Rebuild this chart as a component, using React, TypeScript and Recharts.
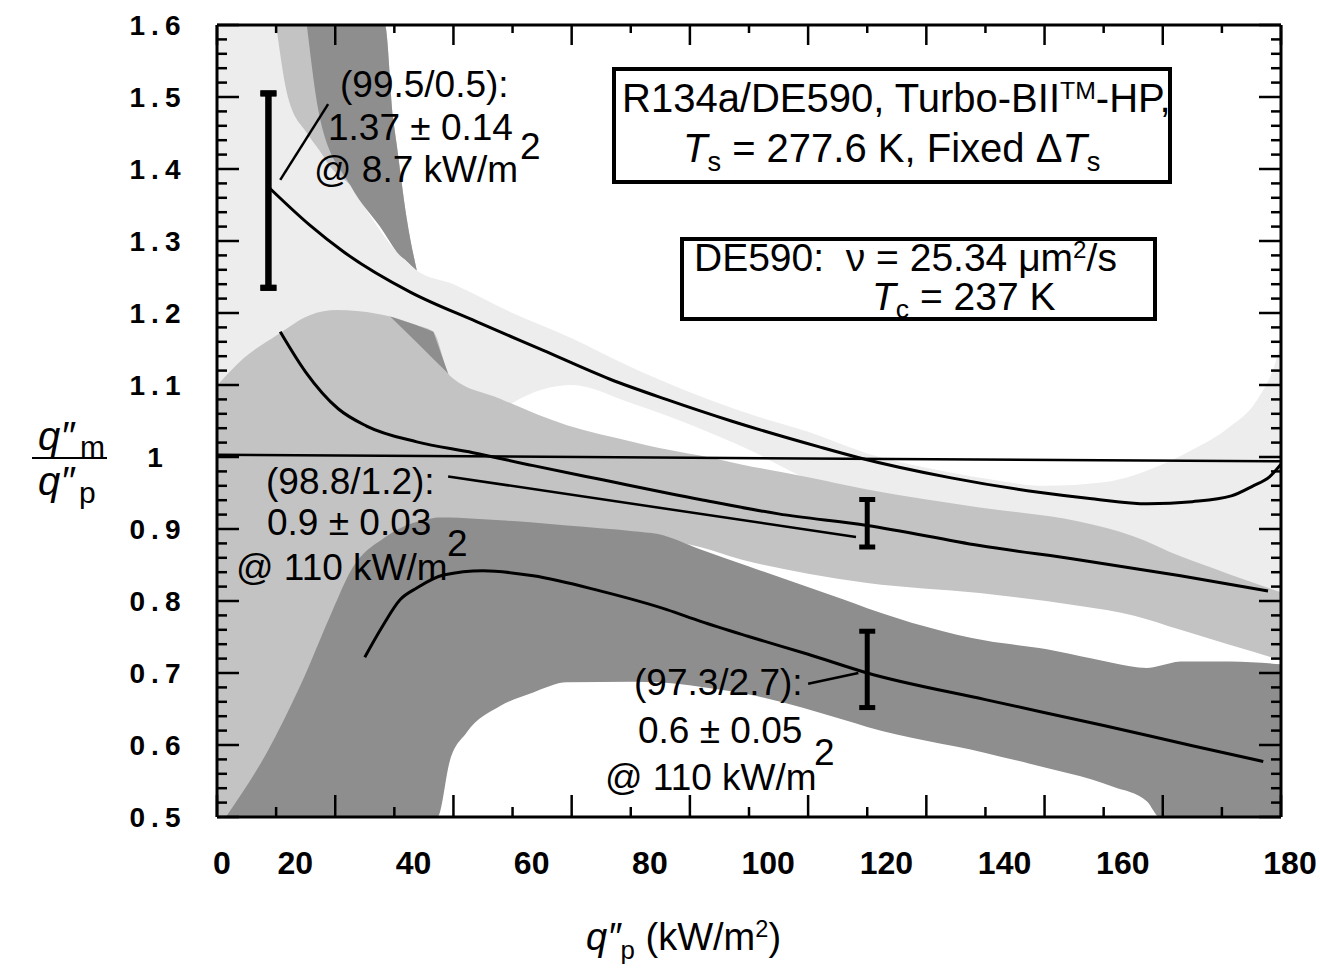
import React from 'react';
import { ComposedChart, Area, Line, ErrorBar, XAxis, YAxis } from 'recharts';

const FONT = '"Liberation Sans", Arial, Helvetica, sans-serif';
const NARROW = '"Liberation Sans Narrow", "Liberation Sans", Arial, sans-serif';

// ---- shaded uncertainty bands (x = q''p in kW/m2, lo/hi = q''m/q''p) ----
const lightX = [0, 10, 13, 17.4, 22.5, 30.4, 33.8, 40, 50, 60, 70, 80, 90, 100, 110, 120, 130, 140, 150, 160, 165, 171, 176, 179, 180];
const lightHi = [1.6, 1.6, 1.5, 1.44, 1.378, 1.285, 1.259, 1.24, 1.2, 1.165, 1.125, 1.09, 1.06, 1.035, 1.005, 0.985, 0.97, 0.96, 0.965, 0.99, 1.01, 1.04, 1.08, 1.13, 1.16];
const lightLo = [0.5, 0.5, 0.5, 0.5, 0.5, 0.5, 0.5, 0.9, 1.075, 1.1, 1.075, 1.045, 1.01, 0.97, 0.95, 0.84, 0.83, 0.82, 0.81, 0.8, 0.79, 0.78, 0.77, 0.76, 0.76];

const medX = [0, 4.5, 10.1, 15.7, 20.3, 27, 29.3, 33.8, 36.6, 39.4, 47.9, 59.2, 70.4, 74.6, 81.7, 88.5, 100, 110, 129, 146, 155, 163, 171, 180];
const medHi = [1.099, 1.137, 1.169, 1.197, 1.204, 1.199, 1.195, 1.183, 1.174, 1.113, 1.081, 1.044, 1.021, 1.013, 1.002, 0.99, 0.972, 0.955, 0.93, 0.91, 0.89, 0.862, 0.838, 0.812];
const medLo = [0.5, 0.5, 0.5, 0.5, 0.5, 0.5, 0.5, 0.5, 0.5, 0.906, 0.902, 0.895, 0.887, 0.885, 0.875, 0.858, 0.838, 0.825, 0.811, 0.793, 0.78, 0.76, 0.74, 0.718];

const medWedgeX = [10, 12, 15.2, 17.4, 19, 22.5, 28.4, 29.8, 30.4, 32.1, 33.8];
const medWedgeHi = [1.6, 1.6, 1.6, 1.6, 1.6, 1.6, 1.6, 1.471, 1.434, 1.331, 1.259];
const medWedgeLo = [1.6, 1.5, 1.45, 1.425, 1.405, 1.378, 1.31, 1.292, 1.285, 1.272, 1.259];

const darkX = [1.5, 8.4, 14, 19.6, 22.5, 28.7, 36.5, 37.3, 39.4, 42.2, 47.9, 53.5, 59.2, 70.4, 74.6, 81.7, 90, 106, 110, 130, 140.4, 148, 151.6, 157.3, 159.5, 163, 171.4, 180];
const darkHi = [0.5, 0.589, 0.681, 0.788, 0.84, 0.89, 0.915, 0.916, 0.916, 0.915, 0.912, 0.909, 0.905, 0.897, 0.893, 0.872, 0.848, 0.802, 0.79, 0.745, 0.733, 0.72, 0.714, 0.707, 0.71, 0.716, 0.716, 0.712];
const darkLo = [0.5, 0.5, 0.5, 0.5, 0.5, 0.5, 0.5, 0.5, 0.578, 0.617, 0.654, 0.673, 0.687, 0.688, 0.687, 0.681, 0.67, 0.635, 0.625, 0.589, 0.568, 0.552, 0.542, 0.522, 0.5, 0.5, 0.5, 0.5];

const darkWedgeX = [15.2, 17.4, 22.5, 28.4, 29.8, 30.4, 32.1, 33.8];
const darkWedgeHi = [1.6, 1.6, 1.6, 1.6, 1.471, 1.434, 1.331, 1.259];
const darkWedgeLo = [1.6, 1.471, 1.378, 1.31, 1.292, 1.285, 1.272, 1.259];

const patchX = [29.3, 33.8, 36.6, 39.1];
const patchHi = [1.195, 1.183, 1.174, 1.116];
const patchLo = [1.195, 1.159, 1.136, 1.116];

// ---- curves ----
const topX = [8.7, 15.7, 21.4, 32.7, 43.9, 55.2, 66.5, 76, 87, 101.9, 108.6, 124.2, 139, 148, 157.5, 165, 171.6, 175.3, 178, 180];
const topY = [1.375, 1.322, 1.285, 1.229, 1.188, 1.148, 1.108, 1.08, 1.05, 1.014, 0.999, 0.971, 0.951, 0.942, 0.935, 0.938, 0.946, 0.96, 0.972, 0.99];

const midX = [10.7, 15, 20.5, 25.3, 33.8, 43.3, 53.5, 64.8, 81.7, 95, 110, 129, 146, 163, 177.8];
const midY = [1.174, 1.118, 1.067, 1.043, 1.021, 1.006, 0.988, 0.969, 0.941, 0.921, 0.905, 0.877, 0.857, 0.835, 0.814];

const botX = [25, 28, 31, 33.8, 38.3, 45, 53.5, 64.8, 76.1, 81.7, 89.8, 100, 110, 130, 150, 165, 177];
const botY = [0.722, 0.765, 0.802, 0.818, 0.836, 0.842, 0.835, 0.814, 0.788, 0.772, 0.751, 0.726, 0.7, 0.663, 0.627, 0.599, 0.577];

const unityX = [0, 180];
const unityY = [1.003, 0.994];

// leader lines from the labels
const lead1X = [10.7, 18.8];
const lead1Y = [1.385, 1.49];
const lead2X = [39.1, 108.1];
const lead2Y = [0.973, 0.889];
const lead3X = [100, 108.5];
const lead3Y = [0.685, 0.7];

// error bars (first one is at 8.7 kW/m2, the other two at 110 kW/m2)
const ebX = [8.7, 110, 110];
const ebY = [1.37, 0.908, 0.705];
const ebErr = [0.135, 0.033, 0.053];

// axis ticks
const xMajor = [0, 20, 40, 60, 80, 100, 120, 140, 160, 180];
const xTicks = Array.from({ length: 19 }, (_, i) => i * 10);
const yMajor = [0.5, 0.6, 0.7, 0.8, 0.9, 1, 1.1, 1.2, 1.3, 1.4, 1.5, 1.6];
const yMajorText = ['0.5', '0.6', '0.7', '0.8', '0.9', '1', '1.1', '1.2', '1.3', '1.4', '1.5', '1.6'];
const yTicks = Array.from({ length: 56 }, (_, i) => +(0.5 + i * 0.02).toFixed(2));

const band = (xs: number[], lo: number[], hi: number[]) => xs.map((x, i) => ({ x, band: [lo[i], hi[i]] }));
const pts = (xs: number[], ys: number[]) => xs.map((x, i) => ({ x, y: ys[i] }));

const lightData = band(lightX, lightLo, lightHi);
const medData = band(medX, medLo, medHi);
const medWedgeData = band(medWedgeX, medWedgeLo, medWedgeHi);
const darkData = band(darkX, darkLo, darkHi);
const darkWedgeData = band(darkWedgeX, darkWedgeLo, darkWedgeHi);
const patchData = band(patchX, patchLo, patchHi);
const ebData = ebX.map((x, i) => ({ x, y: ebY[i], e: ebErr[i] }));
// a lone point makes recharts draw a marker, so the first bar gets its point twice
const eb1Data = [ebData[0], ebData[0]];
const eb23Data = ebData.slice(1);

const LIGHT = '#ededed';
const MEDIUM = '#c3c3c3';
const DARK = '#8e8e8e';

const isMajorY = (v: number) => Math.round(v * 100) % 10 === 0;
// the printed x labels sit left of their ticks in the original
const xLabelShift = (v: number) => (v === 0 ? 5 : v === 180 ? 9 : -40);

const BottomTick = (props: any) => {
  const { x, y, payload } = props;
  const v = payload.value;
  const major = v % 20 === 0;
  return (
    <g>
      <line x1={x} y1={y} x2={x} y2={y - (major ? 22 : 10)} stroke="#000" strokeWidth={2.5} />
      {major && xMajor.includes(v) && (
        <text x={x + xLabelShift(v)} y={y + 46} textAnchor="middle" dominantBaseline="central"
          fontFamily={NARROW} fontWeight="bold" fontSize={32}>{v}</text>
      )}
    </g>
  );
};

const TopTick = (props: any) => {
  const { x, y, payload } = props;
  const major = payload.value % 20 === 0;
  return <line x1={x} y1={y} x2={x} y2={y + (major ? 20 : 8)} stroke="#000" strokeWidth={2.5} />;
};

const LeftTick = (props: any) => {
  const { x, y, payload } = props;
  const v = payload.value;
  const major = isMajorY(v);
  const idx = yMajor.findIndex((m) => Math.abs(m - v) < 1e-6);
  return (
    <g>
      <line x1={x} y1={y} x2={x + (major ? 22 : 10)} y2={y} stroke="#000" strokeWidth={2.5} />
      {idx >= 0 && (
        <text x={x - 59} y={y} textAnchor="middle" dominantBaseline="central"
          fontFamily={FONT} fontWeight="bold" fontSize={28} letterSpacing={6}>{yMajorText[idx]}</text>
      )}
    </g>
  );
};

const RightTick = (props: any) => {
  const { x, y, payload } = props;
  const major = isMajorY(payload.value);
  return <line x1={x} y1={y} x2={x - (major ? 22 : 10)} y2={y} stroke="#000" strokeWidth={2.5} />;
};

const Note = ({ left, cy, size = 37, children }: { left: number; cy: number; size?: number; children: React.ReactNode }) => (
  <div style={{ position: 'absolute', left, top: cy - size * 0.49, fontSize: size, lineHeight: `${size}px`, whiteSpace: 'nowrap' }}>
    {children}
  </div>
);

const Sub = ({ children }: { children: React.ReactNode }) => (
  <span style={{ fontSize: '0.68em', position: 'relative', top: '0.32em' }}>{children}</span>
);

const Sup = ({ children }: { children: React.ReactNode }) => (
  <span style={{ fontSize: '0.62em', position: 'relative', top: '-0.55em' }}>{children}</span>
);

const bandProps = { dataKey: 'band', type: 'monotone' as const, stroke: 'none', fillOpacity: 1, isAnimationActive: false, activeDot: false, dot: false };
const lineProps = { dataKey: 'y', dot: false, activeDot: false, stroke: '#000', isAnimationActive: false };
const axisLine = { stroke: '#000', strokeWidth: 3 };

export default function App() {
  return (
    <div style={{ position: 'absolute', left: 0, top: 0, width: 1320, height: 970, background: '#fff', fontFamily: FONT, color: '#000' }}>
      <ComposedChart width={1320} height={970} margin={{ top: 20, right: 34, bottom: 93, left: 157 }}>
        <XAxis dataKey="x" type="number" domain={[0, 180]} allowDataOverflow ticks={xTicks} interval={0}
          height={60} tickSize={0} tickMargin={0} tickLine={false} tick={<BottomTick />} axisLine={axisLine} />
        <XAxis xAxisId="top" orientation="top" dataKey="x" type="number" domain={[0, 180]} allowDataOverflow ticks={xTicks} interval={0}
          height={5} tickSize={0} tickMargin={0} tickLine={false} tick={<TopTick />} axisLine={axisLine} />
        <YAxis type="number" domain={[0.5, 1.6]} allowDataOverflow ticks={yTicks} interval={0}
          width={60} tickSize={0} tickMargin={0} tickLine={false} tick={<LeftTick />} axisLine={axisLine} />
        <YAxis yAxisId="right" orientation="right" type="number" domain={[0.5, 1.6]} allowDataOverflow ticks={yTicks} interval={0}
          width={5} tickSize={0} tickMargin={0} tickLine={false} tick={<RightTick />} axisLine={axisLine} />

        <Area data={lightData} fill={LIGHT} {...bandProps} />
        <Area data={medData} fill={MEDIUM} {...bandProps} />
        <Area data={medWedgeData} fill={MEDIUM} {...bandProps} />
        <Area data={darkData} fill={DARK} {...bandProps} />
        <Area data={darkWedgeData} fill={DARK} {...bandProps} />
        <Area data={patchData} fill={DARK} {...bandProps} type="linear" />

        <Line data={pts(unityX, unityY)} type="linear" strokeWidth={2.5} {...lineProps} />
        <Line data={pts(topX, topY)} type="monotone" strokeWidth={3} {...lineProps} />
        <Line data={pts(midX, midY)} type="monotone" strokeWidth={3} {...lineProps} />
        <Line data={pts(botX, botY)} type="monotone" strokeWidth={3} {...lineProps} />
        <Line data={pts(lead1X, lead1Y)} type="linear" strokeWidth={2.5} {...lineProps} />
        <Line data={pts(lead2X, lead2Y)} type="linear" strokeWidth={2.5} {...lineProps} />
        <Line data={pts(lead3X, lead3Y)} type="linear" strokeWidth={2.5} {...lineProps} />

        <Line data={eb1Data} dataKey="y" stroke="none" dot={false} activeDot={false} isAnimationActive={false}>
          <ErrorBar dataKey="e" direction="y" width={8} strokeWidth={6} stroke="#000" />
        </Line>
        <Line data={eb23Data} dataKey="y" stroke="none" dot={false} activeDot={false} isAnimationActive={false}>
          <ErrorBar dataKey="e" direction="y" width={8} strokeWidth={5} stroke="#000" />
        </Line>
      </ComposedChart>

      {/* legend boxes */}
      <div style={{ position: 'absolute', left: 612, top: 67, width: 560, height: 117, border: '4px solid #000', boxSizing: 'border-box' }} />
      <Note left={622} cy={98} size={40}>R134a/DE590, Turbo-BII<Sup>TM</Sup>-HP,</Note>
      <Note left={683} cy={148} size={40}><i>T</i><Sub>s</Sub> = 277.6 K, Fixed Δ<i>T</i><Sub>s</Sub></Note>

      <div style={{ position: 'absolute', left: 680, top: 237, width: 477, height: 84, border: '4px solid #000', boxSizing: 'border-box' }} />
      <Note left={694} cy={257} size={39}>DE590:&nbsp; ν = 25.34 μm<Sup>2</Sup>/s</Note>
      <Note left={872} cy={296} size={39}><i>T</i><Sub>c</Sub> = 237 K</Note>

      {/* curve annotations */}
      <Note left={340} cy={84}>(99.5/0.5):</Note>
      <Note left={328} cy={127}>1.37 ± 0.14</Note>
      <Note left={520} cy={146}>2</Note>
      <Note left={314} cy={169}>@ 8.7 kW/m</Note>

      <Note left={266} cy={481}>(98.8/1.2):</Note>
      <Note left={267} cy={522}>0.9 ± 0.03</Note>
      <Note left={447} cy={543}>2</Note>
      <Note left={236} cy={567}>@ 110 kW/m</Note>

      <Note left={634} cy={682}>(97.3/2.7):</Note>
      <Note left={638} cy={730}>0.6 ± 0.05</Note>
      <Note left={814} cy={752}>2</Note>
      <Note left={605} cy={777}>@ 110 kW/m</Note>

      {/* y axis title: q''m / q''p */}
      <Note left={38} cy={436} size={40}><i>q″</i></Note>
      <Note left={80} cy={447} size={30}>m</Note>
      <div style={{ position: 'absolute', left: 32, top: 457, width: 75, height: 2, background: '#000' }} />
      <Note left={38} cy={481} size={40}><i>q″</i></Note>
      <Note left={79} cy={493} size={30}>p</Note>

      {/* x axis title */}
      <Note left={586} cy={937} size={38}><i>q″</i><Sub>p</Sub> (kW/m<Sup>2</Sup>)</Note>
    </div>
  );
}
